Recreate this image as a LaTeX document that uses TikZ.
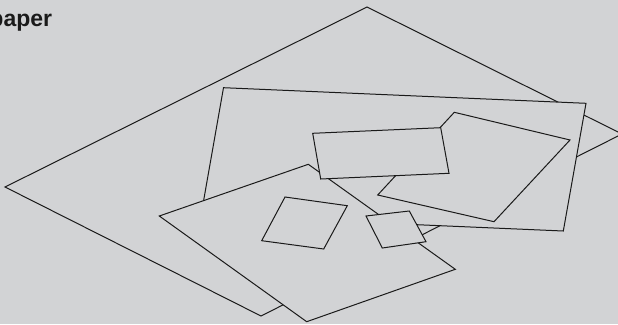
\documentclass[tikz,border=0pt]{standalone}
\usepackage{fontspec}
\setmainfont{Liberation Sans}
\definecolor{paperbg}{HTML}{D2D3D5}
\definecolor{ink}{HTML}{1A1A1A}
\usepackage{tikz}

\begin{document}
\begin{tikzpicture}[
  x=1pt, y=-1pt,
  sheet/.style={draw=ink, fill=paperbg, line width=1pt, line join=miter},
  heading/.style={font=\fontsize{23}{27}\selectfont\bfseries, text=ink,
                  inner sep=0pt, anchor=base west}
]
\fill[paperbg] (0,0) rectangle (618,324);
\useasboundingbox (0,0) rectangle (618,324);

\node[heading] (title) at (-10.7,26.7) {paper};

\draw[sheet] (367,7) -- (622,134) -- (261,316) -- (5,187) -- cycle;
\draw[sheet] (223.5,87.7) -- (586,103.3) -- (563.3,231) -- (201,215.4) -- cycle;
\draw[sheet] (454.3,112.3) -- (570,140) -- (494,221.7) -- (377.7,195) -- cycle;
\draw[sheet] (308.3,164.3) -- (455.3,269.3) -- (306.7,321.7) -- (159.3,216) -- cycle;
\draw[sheet] (312.7,133.3) -- (440.7,127.7) -- (449,173.3) -- (320.7,179) -- cycle;
\draw[sheet] (285,197) -- (347.3,205.7) -- (323.7,249) -- (261.7,240.7) -- cycle;
\draw[sheet] (366,216) -- (409.3,211) -- (426,241.7) -- (382.3,248) -- cycle;
\end{tikzpicture}
\end{document}
